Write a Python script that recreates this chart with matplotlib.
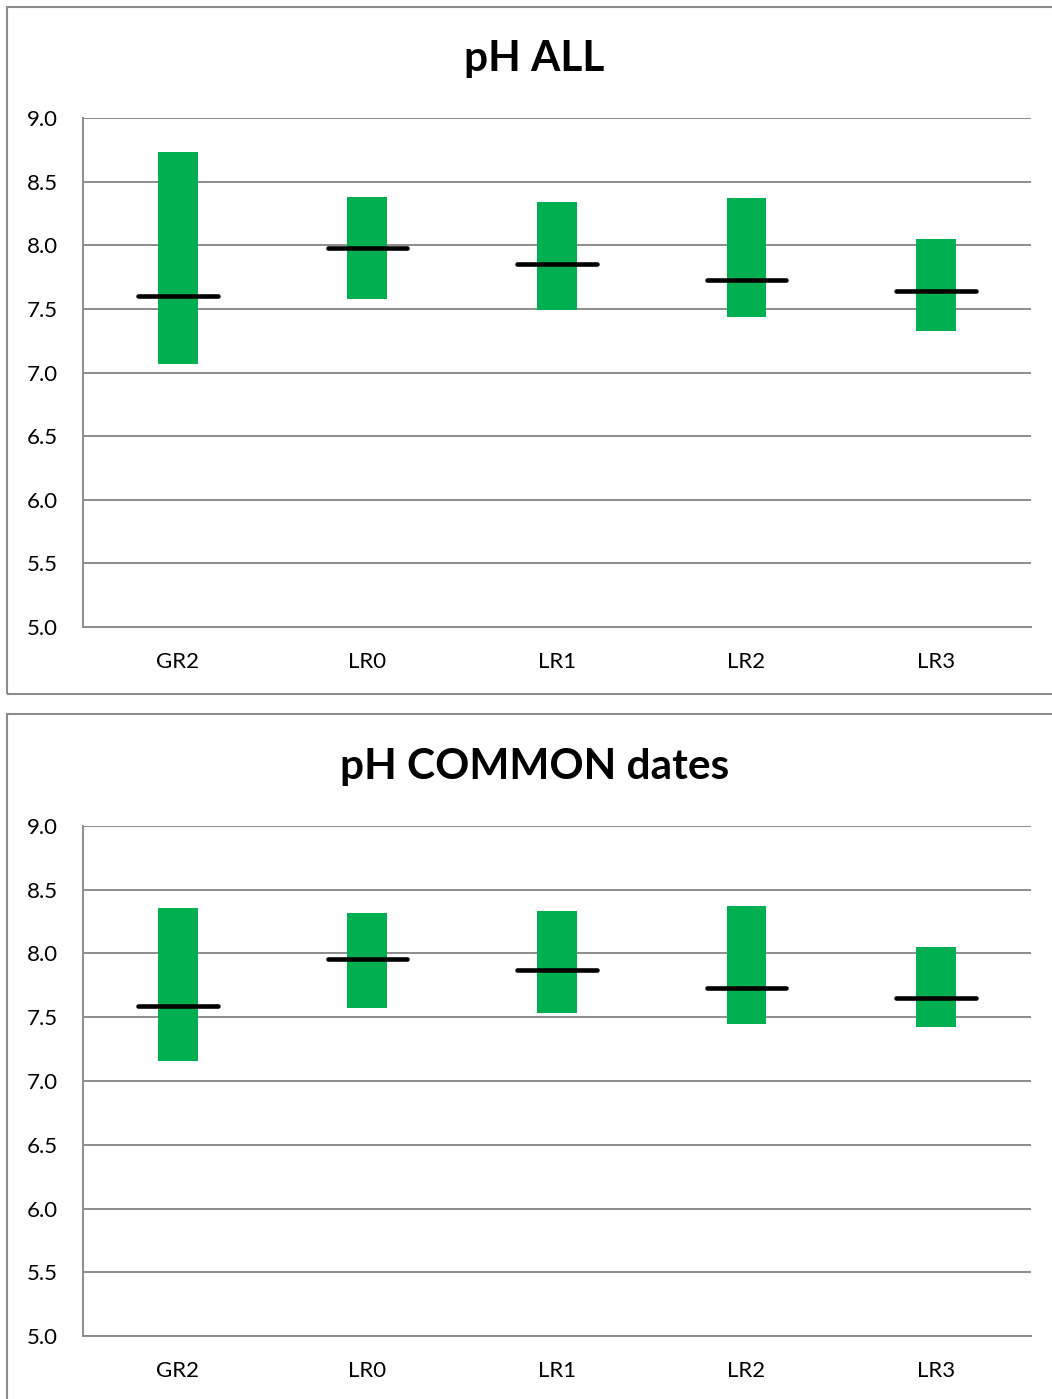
import numpy as np
import matplotlib.pyplot as plt
from matplotlib.patches import Rectangle

plt.rcParams['font.family'] = ['Lato', 'DejaVu Sans']

# ============================================================
# DATA
# ============================================================

sites = ["GR2", "LR0", "LR1", "LR2", "LR3"]

all_low = [7.07, 7.58, 7.49, 7.44, 7.33]
all_high = [8.73, 8.38, 8.34, 8.37, 8.05]
all_med = [7.60, 7.98, 7.85, 7.73, 7.64]

common_low = [7.16, 7.57, 7.53, 7.45, 7.42]
common_high = [8.36, 8.32, 8.33, 8.37, 8.05]
common_med = [7.59, 7.96, 7.87, 7.73, 7.65]

yticks = [5.0, 5.5, 6.0, 6.5, 7.0, 7.5, 8.0, 8.5, 9.0]

GREEN = "#00B050"
GRID = "#8C8C8C"

# ============================================================
# FIGURE
# ============================================================

fig = plt.figure(figsize=(10.52, 13.99), dpi=100)

# panel borders
for y0, h in [(0.5039, 0.4911), (-0.02, 0.5096)]:
    fig.add_artist(Rectangle((0.0067, y0), 1.05, h, transform=fig.transFigure,
                             fill=False, edgecolor="#8C8C8C", lw=1.5))

panels = [
    ("pH ALL", all_low, all_high, all_med, [0.0789, 0.5518, 0.901, 0.3638], 0.958),
    ("pH COMMON dates", common_low, common_high, common_med, [0.0789, 0.0450, 0.901, 0.3646], 0.452),
]

x = np.arange(len(sites))

for title, low, high, med, pos, ty in panels:
    ax = fig.add_axes(pos)
    low = np.array(low)
    high = np.array(high)

    ax.bar(x, high - low, bottom=low, width=0.21, color=GREEN, zorder=3)
    ax.hlines(med, x - 0.21, x + 0.21, colors="black", lw=3.3,
              capstyle="round", zorder=4)

    ax.set_xlim(-0.5, len(sites) - 0.5)
    ax.set_ylim(5.0, 9.0)
    ax.set_yticks(yticks)
    ax.set_yticklabels([f"{v:.1f}" for v in yticks])
    ax.set_xticks(x)
    ax.set_xticklabels(sites)

    ax.yaxis.grid(True, color=GRID, lw=1.4, zorder=0)
    ax.set_axisbelow(True)
    for s in ["top", "right"]:
        ax.spines[s].set_visible(False)
    for s in ["left", "bottom"]:
        ax.spines[s].set_color(GRID)
        ax.spines[s].set_linewidth(1.4)

    ax.tick_params(axis="both", length=0, labelsize=16)
    ax.tick_params(axis="y", pad=18)
    ax.tick_params(axis="x", pad=18)

    fig.text(0.508, ty, title, ha="center", va="center",
             fontsize=30.5, fontweight="bold")

fig.savefig("out.png", dpi=100)
